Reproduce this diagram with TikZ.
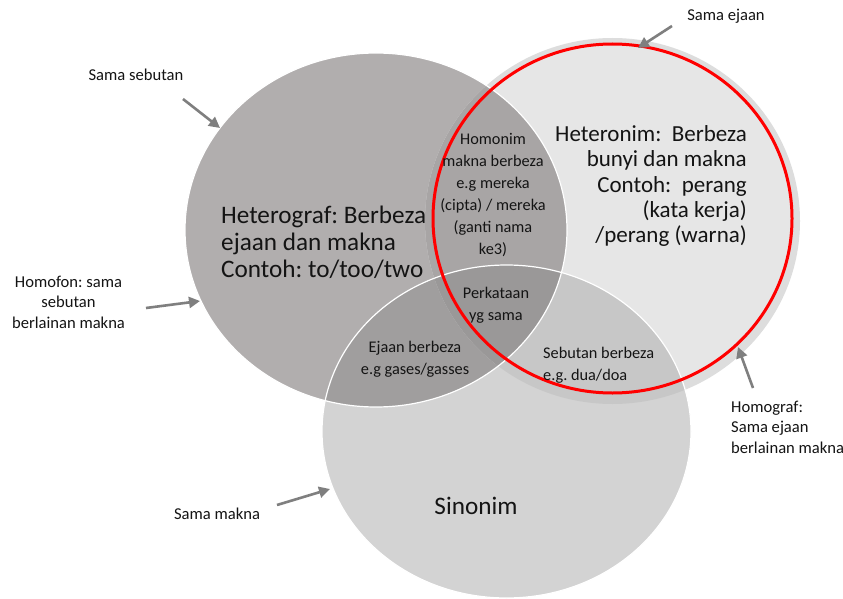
\documentclass[tikz,border=0pt]{standalone}
\usepackage{fontspec}
\setmainfont{Carlito}
\usetikzlibrary{arrows.meta}
\definecolor{cA}{HTML}{B1AEAE}
\definecolor{cB}{HTML}{E6E6E6}
\definecolor{cBshade}{HTML}{DDDDDD}
\definecolor{cC}{HTML}{D3D3D3}
\definecolor{cAB}{HTML}{A8A5A5}
\definecolor{cAC}{HTML}{A09E9E}
\definecolor{cBC}{HTML}{C7C7C7}
\definecolor{cABC}{HTML}{9A9898}
\definecolor{txt}{HTML}{141414}
\definecolor{arrowgray}{HTML}{7F7F7F}
\definecolor{ringred}{HTML}{FF0000}
\begin{document}
\frenchspacing
\begin{tikzpicture}[x=1pt,y=-1pt,
  pA/.style={insert path={(376,230) ellipse [x radius=191pt, y radius=177pt]}},
  pB/.style={insert path={(612.5,221) ellipse [x radius=187.5pt, y radius=183pt]}},
  pR/.style={insert path={(612.5,218.5) ellipse [x radius=179.5pt, y radius=174.5pt]}},
  pC/.style={insert path={(506.5,431.5) ellipse [x radius=184.5pt, y radius=166.5pt]}},
  lbl/.style={font=\fontsize{16.6}{20.5}\selectfont, text=txt, inner sep=0pt},
  small/.style={font=\fontsize{16.3}{22}\selectfont, text=txt, inner sep=0pt},
  big/.style={font=\fontsize{25.2}{27}\selectfont, text=txt, inner sep=0pt},
  bigr/.style={font=\fontsize{23}{25.3}\selectfont, text=txt, inner sep=0pt},
  pointer/.style={draw=arrowgray, line width=2.6pt, -{Triangle[length=11pt,width=11pt]}},
  rim/.style={draw=white, line width=1.2pt},
]
\useasboundingbox (0,0) rectangle (843,599);
\fill[white] (0,0) rectangle (843,599);
% base discs
\fill[cA, pA];
\fill[cBshade, pB];
\fill[cB, pR];
\fill[cC, pC];
% overlaps
\begin{scope}\clip[pA]; \fill[cAB, pB]; \end{scope}
\begin{scope}\clip[pA]; \fill[cAC, pC]; \end{scope}
\begin{scope}\clip[pB]; \fill[cBC, pC]; \end{scope}
\begin{scope}\clip[pA]; \clip[pB]; \fill[cABC, pC]; \end{scope}
% rims
\draw[rim, pA];
\draw[rim, pC];
\draw[draw=ringred, line width=3pt, pR];

% texts in circles
\node[big, align=left, anchor=west] (heterograf) at (221,242)
  {Heterograf: Berbeza\\ejaan dan makna\\Contoh: to/too/two};
\node[bigr, align=right, anchor=east] (heteronim) at (747,186)
  {Heteronim:\ \ Berbeza\\bunyi dan makna\\Contoh:\ \ perang\\(kata kerja)\\/perang (warna)};
\node[small, align=center] (homonim) at (493,195)
  {Homonim\\makna berbeza\\e.g mereka\\(cipta) / mereka\\(ganti nama\\ke3)};
\node[small, align=center] (perkataan) at (496,305) {Perkataan\\yg sama};
\node[small, align=center] (ejaan) at (415,359) {Ejaan berbeza\\e.g gases/gasses};
\node[small, align=left, anchor=west] (sebutan) at (543,365) {Sebutan berbeza\\e.g. dua/doa};
\node[big] (sinonim) at (476,506) {Sinonim};

% outside labels
\node[lbl] (samasebutan) at (136,75) {Sama sebutan};
\node[lbl, align=center] (homofon) at (68.5,302) {Homofon: sama\\sebutan\\berlainan makna};
\node[lbl] (samaejaan) at (726,16) {Sama ejaan};
\node[lbl, align=left, anchor=west] (homograf) at (731,427) {Homograf:\\Sama ejaan\\berlainan makna};
\node[lbl] (samamakna) at (217,514) {Sama makna};

% arrows
\coordinate (s1) at (183,99);  \coordinate (t1) at (220,128);
\coordinate (s2) at (146,308); \coordinate (t2) at (200,301);
\coordinate (s3) at (672,26);  \coordinate (t3) at (638,48);
\coordinate (s4) at (753,388); \coordinate (t4) at (738,347);
\coordinate (s5) at (277,505); \coordinate (t5) at (330,489);
\draw[pointer] (s1) -- (t1);
\draw[pointer] (s2) -- (t2);
\draw[pointer] (s3) -- (t3);
\draw[pointer] (s4) -- (t4);
\draw[pointer] (s5) -- (t5);
\end{tikzpicture}
\end{document}
